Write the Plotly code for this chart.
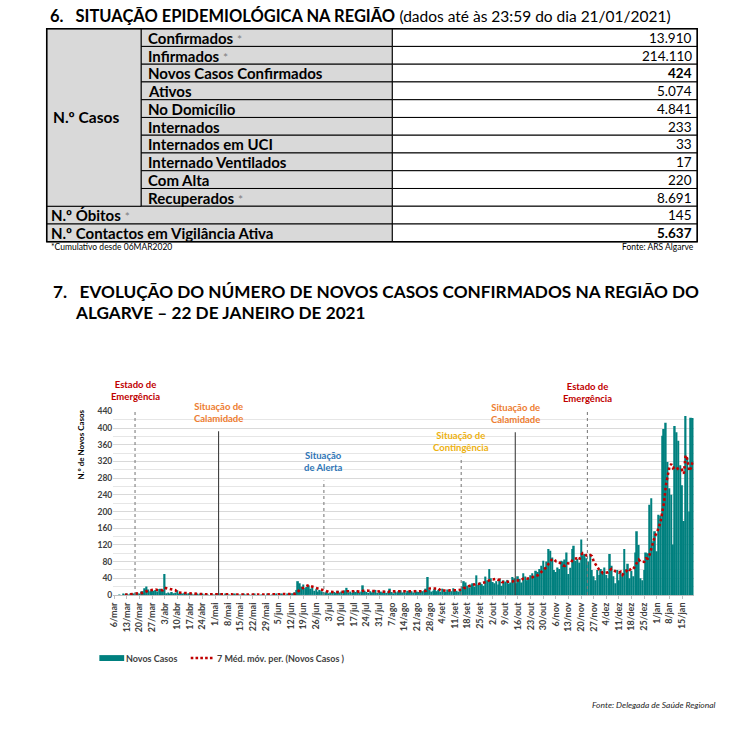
import pandas as pd
import plotly.graph_objects as go

W, H = 731, 741

# ---------------- table data ----------------
table_labels = ["Confirmados", "Infirmados", "Novos Casos Confirmados", "Ativos", "No Domicílio",
                "Internados", "Internados em UCI", "Internado Ventilados", "Com Alta", "Recuperados",
                "N.º Óbitos", "N.º Contactos em Vigilância Ativa"]
table_values = ["13.910", "214.110", "424", "5.074", "4.841", "233", "33", "17", "220", "8.691",
                "145", "5.637"]
table_star = [True, True, False, False, False, False, False, False, False, True, True, False]
table_bold_value = [False, False, True, False, False, False, False, False, False, False, False, True]
group_label = "N.º Casos"

# ---------------- chart data (daily new cases, 6/mar/2020 - 21/jan/2021) ----------------
cases_mar = [0, 0, 0, 1, 0, 2, 1, 2, 1, 3, 2, 3, 4, 5, 3, 8, 9, 16, 20, 13, 9, 11, 10, 12, 8, 14]
cases_apr = [15, 10, 50, 4, 6, 3, 7, 4, 5, 11, 3, 4, 2, 5, 3, 2, 4, 3, 1, 2, 3, 1, 2, 2, 1, 3, 1, 0, 2, 1]
cases_mai = [1, 2, 0, 4, 1, 0, 2, 1, 1, 0, 1, 2, 0, 1, 1, 0, 2, 1, 0, 1, 0, 1, 2, 0, 1, 0, 1, 1, 0, 2, 1]
cases_jun = [0, 1, 1, 2, 0, 1, 2, 1, 0, 3, 1, 2, 4, 6, 12, 33, 28, 20, 25, 16, 19, 23, 15, 18, 10, 14, 8, 12, 9, 7]
cases_jul = [5, 8, 4, 6, 9, 7, 5, 10, 6, 8, 4, 11, 17, 6, 8, 5, 9, 7, 11, 6, 8, 23, 10, 7, 5, 9, 6, 8, 12, 5, 7]
cases_ago = [8, 6, 10, 5, 9, 15, 7, 4, 8, 6, 9, 11, 6, 8, 5, 10, 7, 9, 6, 12, 8, 7, 10, 9, 11, 15, 43, 12, 8, 10, 14]
cases_set = [9, 12, 8, 15, 10, 7, 13, 11, 9, 16, 12, 10, 8, 14, 20, 33, 30, 22, 18, 25, 28, 20, 47, 24, 30, 26, 22, 44, 35, 62]
cases_out = [40, 31, 28, 33, 25, 38, 22, 35, 32, 36, 27, 30, 43, 40, 28, 45, 38, 30, 52, 44, 35, 38, 47, 52, 46, 58, 55, 62, 70, 82, 66]
cases_nov = [80, 110, 106, 90, 60, 55, 66, 62, 82, 80, 85, 102, 50, 65, 110, 118, 82, 86, 78, 133, 95, 98, 88, 80, 98, 60, 45, 35, 60, 48]
cases_dez = [62, 55, 66, 48, 40, 98, 70, 45, 28, 60, 35, 55, 45, 110, 62, 75, 40, 58, 45, 102, 153, 120, 40, 35, 60, 102, 100, 216, 232, 129, 153]
cases_jan = [105, 192, 190, 382, 398, 413, 319, 256, 240, 121, 405, 390, 370, 311, 263, 177, 429, 330, 200, 425, 424]

month_abbr = ["jan", "fev", "mar", "abr", "mai", "jun", "jul", "ago", "set", "out", "nov", "dez"]
tick_start, tick_end = "2020-03-06", "2021-01-15"

series_names = ["Novos Casos", "7 Méd. móv. per. (Novos Casos )"]

# regime changes: (date, label, colour)
events = [
    ("2020-03-17 14:00", "Estado de<br>Emergência", "#C00000"),
    ("2020-05-02 22:00", "Situação de<br>Calamidade", "#ED7D31"),
    ("2020-06-30 08:00", "Situação<br>de Alerta", "#2E75B6"),
    ("2020-09-14 12:00", "Situação de<br>Contingência", "#EDB110"),
    ("2020-10-14 12:00", "Situação de<br>Calamidade", "#ED7D31"),
    ("2020-11-23 12:00", "Estado de<br>Emergência", "#C00000"),
]
# style for each event line: (dash, colour, top px, label centre px)
event_style = [
    ("dot", "#7F7F7F", 410, 391),
    ("solid", "#404040", 432, 413),
    ("dot", "#7F7F7F", 482, 463),
    ("dot", "#7F7F7F", 458, 442),
    ("solid", "#404040", 433, 414),
    ("dot", "#7F7F7F", 412, 393),
]

# ---------------- build ----------------
values = (cases_mar + cases_apr + cases_mai + cases_jun + cases_jul + cases_ago + cases_set
          + cases_out + cases_nov + cases_dez + cases_jan)
dates = pd.date_range("2020-03-06", periods=len(values), freq="D")
ser = pd.Series(values, index=dates)
ma7 = ser.rolling(7).mean()


def px(x):
    return x / W


def py(y):
    return 1 - y / H


FONT = "Lato"
TEAL = "#00807F"
RED = "#C00000"
fig = go.Figure()

fig.add_trace(go.Bar(x=dates, y=values, name=series_names[0], marker=dict(color=TEAL, line=dict(width=0)),
                     showlegend=False))
fig.add_trace(go.Scatter(x=dates, y=ma7, name=series_names[1], mode="lines", showlegend=False,
                         line=dict(color=RED, width=2.6, dash="2.6px,2.6px")))

tick_dates = pd.date_range(tick_start, tick_end, freq="7D")
tick_text = [f"{d.day}/{month_abbr[d.month - 1]}" for d in tick_dates]

shapes = []
annotations = []

# ---- table ----
top, rh = 24, 18
cx = [42, 137, 390, 697]
gray = "#D9D9D9"
n_group = 10
for i, (lab, val) in enumerate(zip(table_labels, table_values)):
    y0, y1 = top + i * rh, top + (i + 1) * rh
    if i < n_group:
        shapes.append(dict(type="rect", xref="paper", yref="paper", x0=px(cx[1]), x1=px(cx[2]),
                           y0=py(y1), y1=py(y0), fillcolor=gray, line=dict(color="black", width=1)))
        lx = 142
    else:
        shapes.append(dict(type="rect", xref="paper", yref="paper", x0=px(cx[0]), x1=px(cx[2]),
                           y0=py(y1), y1=py(y0), fillcolor=gray, line=dict(color="black", width=1)))
        lx = 44
    shapes.append(dict(type="rect", xref="paper", yref="paper", x0=px(cx[2]), x1=px(cx[3]),
                       y0=py(y1), y1=py(y0), fillcolor="white", line=dict(color="black", width=1)))
    txt = f"<b>{lab}</b>"
    if table_star[i]:
        txt += " <span style='font-size:12px;color:#7F7F7F'>*</span>"
    annotations.append(dict(xref="paper", yref="paper", x=px(lx), y=py((y0 + y1) / 2 + 0.3), text=txt,
                            showarrow=False, xanchor="left", yanchor="middle",
                            font=dict(family=FONT, size=15, color="black")))
    vtxt = f"<b>{val}</b>" if table_bold_value[i] else val
    annotations.append(dict(xref="paper", yref="paper", x=px(694), y=py((y0 + y1) / 2 + 0.3), text=vtxt,
                            showarrow=False, xanchor="right", yanchor="middle",
                            font=dict(family=FONT, size=13.5, color="black")))

shapes.append(dict(type="rect", xref="paper", yref="paper", x0=px(cx[0]), x1=px(cx[1]),
                   y0=py(top + n_group * rh), y1=py(top), fillcolor=gray, line=dict(color="black", width=1)))
shapes.append(dict(type="rect", xref="paper", yref="paper", x0=px(cx[0]), x1=px(cx[3]),
                   y0=py(top + len(table_labels) * rh), y1=py(top), line=dict(color="black", width=1.5)))
annotations.append(dict(xref="paper", yref="paper", x=px(46), y=py(top + n_group * rh / 2), text=f"<b>{group_label}</b>",
                        showarrow=False, xanchor="left", yanchor="middle",
                        font=dict(family=FONT, size=15.5, color="black")))

# section 6 title
nb = "\u00a0"
annotations.append(dict(xref="paper", yref="paper", x=px(43), y=py(11),
                        text=f"<b>6.{nb*3}SITUAÇÃO EPIDEMIOLÓGICA NA REGIÃO</b> "
                             f"<span style='font-size:15.5px'>(dados até às 23:59 do dia 21/01/2021)</span>",
                        showarrow=False, xanchor="left", yanchor="middle",
                        font=dict(family=FONT, size=16.5, color="black")))
annotations.append(dict(xref="paper", yref="paper", x=px(44), y=py(245), text="*Cumulativo desde 06MAR2020",
                        showarrow=False, xanchor="left", yanchor="middle",
                        font=dict(family=FONT, size=8.5, color="black")))
annotations.append(dict(xref="paper", yref="paper", x=px(696), y=py(245), text="Fonte: ARS Algarve",
                        showarrow=False, xanchor="right", yanchor="middle",
                        font=dict(family=FONT, size=8.5, color="black")))

# section 7 title
annotations.append(dict(xref="paper", yref="paper", x=px(46), y=py(290),
                        text=f"<b>7.{nb*3}EVOLUÇÃO DO NÚMERO DE NOVOS CASOS CONFIRMADOS NA REGIÃO DO</b>",
                        showarrow=False, xanchor="left", yanchor="middle",
                        font=dict(family=FONT, size=17.2, color="black")))
annotations.append(dict(xref="paper", yref="paper", x=px(68), y=py(312),
                        text="<b>ALGARVE – 22 DE JANEIRO DE 2021</b>",
                        showarrow=False, xanchor="left", yanchor="middle",
                        font=dict(family=FONT, size=17.2, color="black")))

# event lines and labels
for (d, lab, col), (dash, lcol, ytop, ylab) in zip(events, event_style):
    shapes.append(dict(type="line", xref="x", yref="paper", x0=d, x1=d, y0=py(598), y1=py(ytop),
                       line=dict(color=lcol, width=1.1, dash=dash), layer="above"))
    annotations.append(dict(xref="x", yref="paper", x=d, y=py(ylab), text=f"<b>{lab}</b>",
                            showarrow=False, xanchor="center", yanchor="middle",
                            font=dict(family=FONT, size=9.5, color=col)))

# y axis title
annotations.append(dict(xref="paper", yref="paper", x=px(77), y=py(445), text="<b>N.º de Novos Casos</b>",
                        textangle=-90, showarrow=False, xanchor="center", yanchor="middle",
                        font=dict(family=FONT, size=8, color="black")))
# source
annotations.append(dict(xref="paper", yref="paper", x=px(718), y=py(710), text="<i>Fonte: Delegada de Saúde Regional</i>",
                        showarrow=False, xanchor="right", yanchor="middle",
                        font=dict(family=FONT, size=8.5, color="#262626")))

# custom legend (wide swatch like the original)
shapes.append(dict(type="rect", xref="paper", yref="paper", x0=px(95), x1=px(120), y0=py(665), y1=py(659),
                   fillcolor=TEAL, line=dict(width=0)))
annotations.append(dict(xref="paper", yref="paper", x=px(120), y=py(662), text=f"<b>{series_names[0]}</b>",
                        showarrow=False, xanchor="left", yanchor="middle",
                        font=dict(family=FONT, size=9, color="#404040")))
shapes.append(dict(type="line", xref="paper", yref="paper", x0=px(187), x1=px(211), y0=py(662), y1=py(662),
                   line=dict(color=RED, width=2.6, dash="2.6px,2.2px")))
annotations.append(dict(xref="paper", yref="paper", x=px(211), y=py(662), text=f"<b>{series_names[1]}</b>",
                        showarrow=False, xanchor="left", yanchor="middle",
                        font=dict(family=FONT, size=9, color="#404040")))

fig.update_layout(
    width=W, height=H, autosize=False,
    margin=dict(l=0, r=0, t=0, b=0),
    paper_bgcolor="white", plot_bgcolor="white",
    bargap=0.1,
    showlegend=False,
    shapes=shapes,
    annotations=annotations,
    xaxis=dict(domain=[px(109), px(693.5)], type="date",
               range=["2020-03-05 12:00", "2021-01-21 12:00"],
               tickvals=tick_dates, ticktext=tick_text, tickangle=-90,
               tickfont=dict(family=FONT, size=9, color="#404040", weight="bold"),
               showgrid=False, showline=True, linecolor="#BFBFBF", linewidth=1,
               ticks="outside", ticklen=3, tickcolor="#BFBFBF", zeroline=False),
    yaxis=dict(domain=[py(598), py(412)], range=[0, 440], tickvals=list(range(0, 441, 40)),
               tickfont=dict(family=FONT, size=8.5, color="#404040", weight="bold"),
               showgrid=True, gridcolor="#D9D9D9", gridwidth=1,
               minor=dict(dtick=20, showgrid=True, gridcolor="#E6E6E6"),
               zeroline=False, showline=False, ticks=""),
)

fig.write_html("out.html", config={"displayModeBar": False},
               post_script="document.body.style.margin='0';document.body.style.overflow='hidden';")
